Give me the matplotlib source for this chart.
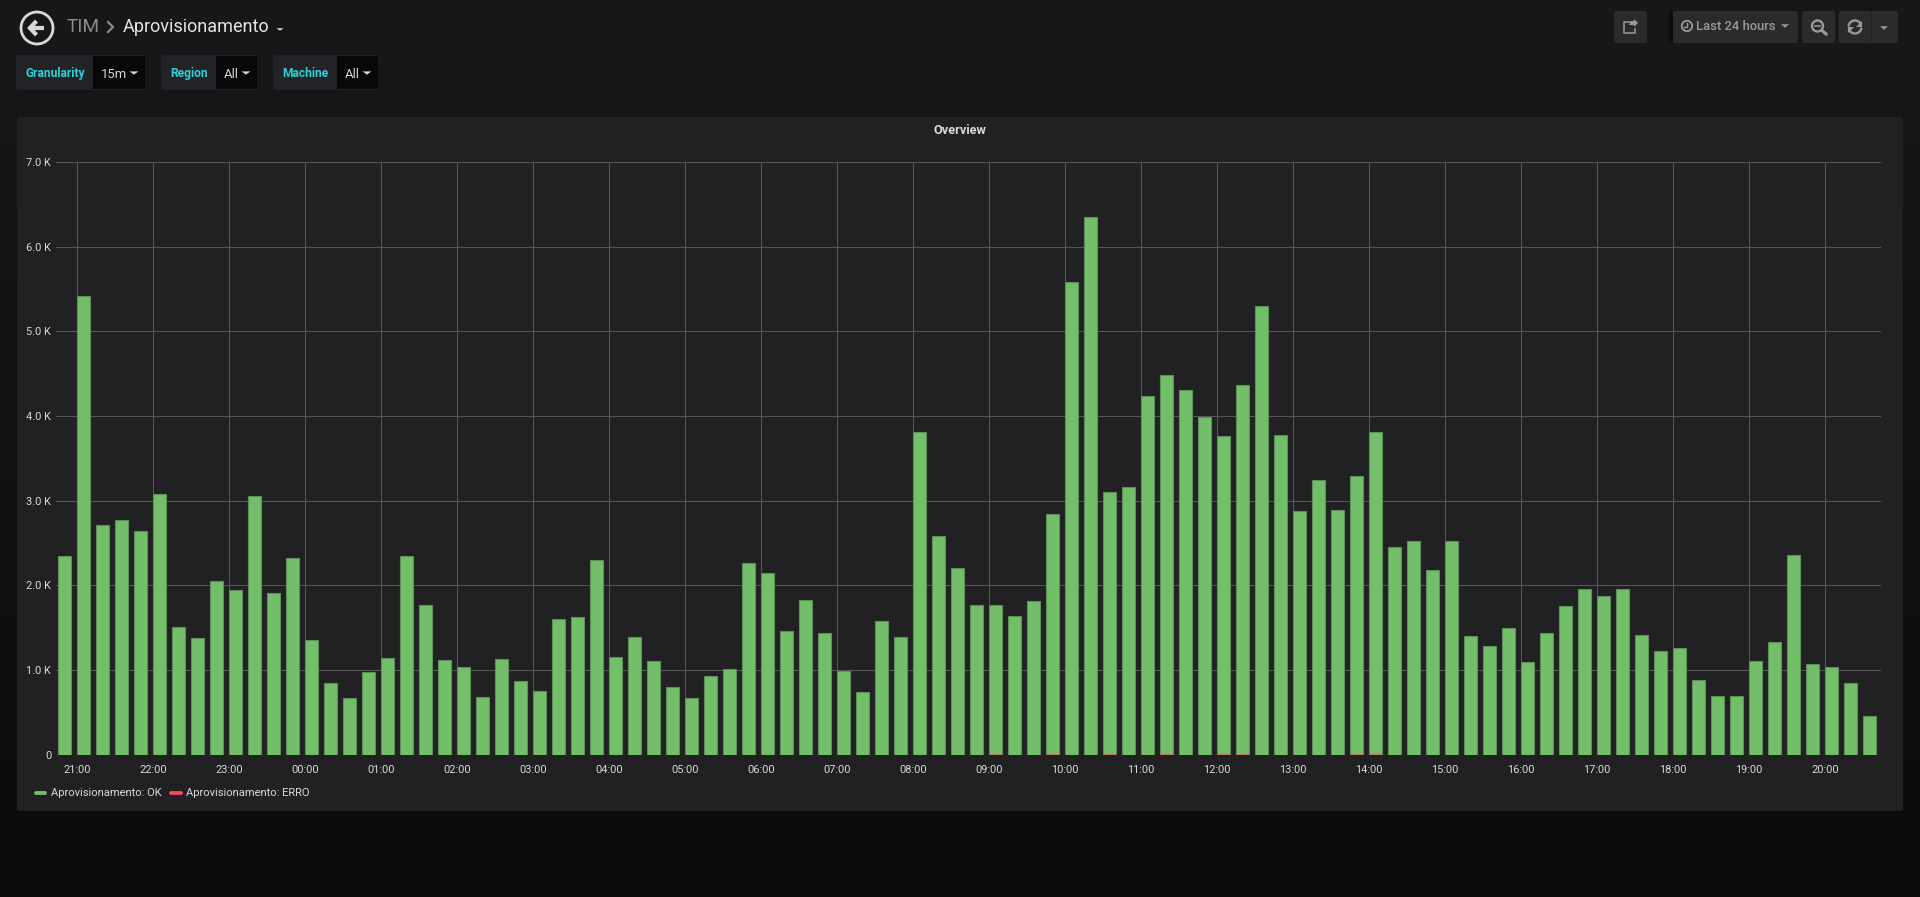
import numpy as np
import matplotlib
matplotlib.use("Agg")
import matplotlib.pyplot as plt
from matplotlib.patches import Circle, Rectangle, Polygon, Arc, FancyBboxPatch

plt.rcParams['font.family'] = ['Roboto', 'DejaVu Sans']

# counts per 15 minutes, first bar is 20:45
ok_values = [2352, 5421, 2714, 2773, 2644, 3076, 1507, 1377, 2050, 1943, 3057, 1912,
             2321, 1353, 850, 673, 976, 1145, 2345, 1770, 1117, 1035, 684, 1133,
             873, 759, 1601, 1625, 2297, 1149, 1385, 1109, 799, 673, 932, 1015,
             2266, 2148, 1463, 1829, 1440, 991, 744, 1577, 1389, 3808, 2581, 2205,
             1773, 1773, 1638, 1815, 2842, 5587, 6345, 3103, 3158, 4236, 4484, 4303,
             3983, 3760, 4371, 5301, 3773, 2880, 3242, 2893, 3293, 3806, 2451, 2524,
             2183, 2522, 1397, 1290, 1499, 1094, 1432, 1762, 1955, 1880, 1963, 1412,
             1231, 1255, 885, 696, 696, 1109, 1326, 2356, 1070, 1039, 842, 460]
erro_values = [0] * 96
for i in [49, 52, 55, 58, 61, 62, 68, 69]:
    erro_values[i] = 10

hours_labels = ["21:00", "22:00", "23:00", "00:00", "01:00", "02:00", "03:00", "04:00",
                "05:00", "06:00", "07:00", "08:00", "09:00", "10:00", "11:00", "12:00",
                "13:00", "14:00", "15:00", "16:00", "17:00", "18:00", "19:00", "20:00"]
y_ticks = [0, 1000, 2000, 3000, 4000, 5000, 6000, 7000]
y_labels = ["0", "1.0 K", "2.0 K", "3.0 K", "4.0 K", "5.0 K", "6.0 K", "7.0 K"]

W, H = 1920, 897
PANEL = "#212124"
TXT = "#d8d9da"
BTN = "#2b2b2e"
BTN_TXT = "#9a9a9c"
CYAN = "#2fd0d8"
GREEN = "#73bf69"
RED = "#f2495c"
GRID = "#57575a"


def px(size):
    return size * 0.72


fig = plt.figure(figsize=(W / 100, H / 100), dpi=100)

# whole figure layer in pixel coordinates for the dashboard chrome
bg = fig.add_axes([0, 0, 1, 1])
bg.axis("off")
grad = np.linspace(0, 1, 256).reshape(-1, 1)
top = np.array([0x17, 0x18, 0x1a]) / 255
bot = np.array([0x0a, 0x0b, 0x0d]) / 255
bg.imshow(top + (bot - top) * grad[..., None], extent=(0, W, H, 0), aspect="auto")
bg.set_xlim(0, W)
bg.set_ylim(H, 0)


def box(x0, y0, x1, y1, color, rad=2):
    bg.add_patch(FancyBboxPatch((x0 + rad, y0 + rad), x1 - x0 - 2 * rad, y1 - y0 - 2 * rad,
                                boxstyle=f"round,pad={rad},rounding_size={rad}",
                                fc=color, ec="none"))


def caret(x, y, color=TXT, w=4.5, h=3.5):
    bg.add_patch(Polygon([(x - w, y - h / 2), (x + w, y - h / 2), (x, y + h / 2)], fc=color, ec="none"))


def label(x, y, s, size=12, color=TXT, ha="left", weight="normal"):
    bg.text(x, y, s, fontsize=px(size), color=color, ha=ha, va="center", fontweight=weight)


# panel
box(17, 117, 1903, 811, PANEL)
label(960, 131, "Overview", 12.8, TXT, ha="center", weight="bold")

# back button + breadcrumb
bg.add_patch(Circle((37, 28), 16, fc="none", ec=TXT, lw=2))
bg.plot([44, 31], [28, 28], color=TXT, lw=3, solid_capstyle="butt")
bg.plot([36.5, 30, 36.5], [21, 28, 35], color=TXT, lw=3, solid_joinstyle="miter", solid_capstyle="butt")
label(67, 27, "TIM", 19, "#8b8b8d")
bg.plot([108, 113, 108], [22, 27, 32], color="#8b8b8d", lw=1.6)
label(123, 27, "Aprovisionamento", 18, "#e4e5e6")
caret(280, 29.5, TXT, 3.5, 2.5)

# template variables
for x0, x1, x2, name, val, tx, vx, cx in [(16, 93, 145, "Granularity", "15m", 25, 101, 134),
                                          (161, 216, 257, "Region", "All", 170, 224, 246),
                                          (273, 337, 378, "Machine", "All", 282, 345, 367)]:
    box(x0, 55, x2, 90, "#212327")
    bg.add_patch(Rectangle((x1, 56), x2 - x1, 33, fc="#08080a", ec="none"))
    label(tx, 73.5, name, 12, CYAN, weight="bold")
    label(vx, 74, val, 13, TXT)
    caret(cx, 73, TXT, 4.5, 3.2)

# top right buttons
box(1614, 11, 1647, 43, BTN)
bg.add_patch(Rectangle((1669, 11), 4, 32, fc="#0c0c0e", ec="none"))
box(1673, 11, 1798, 43, BTN)
box(1802, 11, 1835, 43, BTN)
box(1839, 11, 1898, 43, BTN)
bg.plot([1871, 1871], [11, 43], color="#232326", lw=0.8)
# share
bg.plot([1630, 1624, 1624, 1635, 1635], [22, 22, 33, 33, 29], color=BTN_TXT, lw=1.1)
bg.add_patch(Polygon([(1629, 25), (1631, 21), (1634, 21), (1634, 19), (1638, 23), (1634, 27), (1634, 25)],
                     fc=BTN_TXT, ec="none"))
# clock + time range
bg.add_patch(Circle((1687, 26), 5.2, fc="none", ec=BTN_TXT, lw=1.3))
bg.plot([1687, 1687, 1684], [23, 27, 27], color=BTN_TXT, lw=1)
label(1696, 27, "Last 24 hours", 13, BTN_TXT, weight="medium")
caret(1785, 26, BTN_TXT, 4, 3.5)
# zoom out
bg.add_patch(Circle((1817.5, 26), 5.5, fc="none", ec=BTN_TXT, lw=1.7))
bg.plot([1815, 1820], [26, 26], color=BTN_TXT, lw=1.2)
bg.plot([1822, 1826], [30.5, 34], color=BTN_TXT, lw=2.2)
# refresh
bg.add_patch(Arc((1855, 27), 13, 13, theta1=185, theta2=340, ec=BTN_TXT, lw=1.7))
bg.add_patch(Arc((1855, 27), 13, 13, theta1=5, theta2=160, ec=BTN_TXT, lw=1.7))
bg.add_patch(Polygon([(1862, 21), (1862, 27), (1856, 27)], fc=BTN_TXT, ec="none"))
bg.add_patch(Polygon([(1848, 33), (1848, 27), (1854, 27)], fc=BTN_TXT, ec="none"))
caret(1884, 28, BTN_TXT, 4, 3.5)

# chart, left edge of each bar sits on its timestamp
L, R, T, B = 56, 1881, 161.8, 754.8
PX_HOUR = 76.0
ax = fig.add_axes([L / W, 1 - B / H, (R - L) / W, (B - T) / H])
ax.patch.set_alpha(0)
t = np.arange(len(ok_values)) * 0.25 - 0.25
ax.bar(t, ok_values, width=0.1667, align="edge", color=GREEN, edgecolor="#5b8f55", linewidth=0.8, zorder=3)
ax.bar(t, erro_values, width=0.1667, align="edge", color=RED, alpha=0.6, linewidth=0, zorder=4)
ax.set_xlim((L - 77.3) / PX_HOUR, (R - 77.3) / PX_HOUR)
ax.set_ylim(0, 7000)
ax.set_xticks(np.arange(len(hours_labels)))
ax.set_xticklabels(hours_labels)
ax.set_yticks(y_ticks)
ax.set_yticklabels(y_labels)
ax.tick_params(axis="both", length=0, colors=TXT, labelsize=px(11))
ax.tick_params(axis="x", pad=7)
ax.tick_params(axis="y", pad=3.5)
ax.grid(True, color=GRID, linewidth=0.72, zorder=0)
ax.set_axisbelow(True)
for name, sp in ax.spines.items():
    sp.set_visible(False)

# legend
bg.plot([36, 45], [793, 793], color=GREEN, lw=2.8, solid_capstyle="round")
label(51, 793, "Aprovisionamento: OK", 11.1, TXT)
bg.plot([171, 181], [793, 793], color=RED, lw=2.8, solid_capstyle="round")
label(186, 793, "Aprovisionamento: ERRO", 11.1, TXT)

fig.savefig("out.png", dpi=100)
